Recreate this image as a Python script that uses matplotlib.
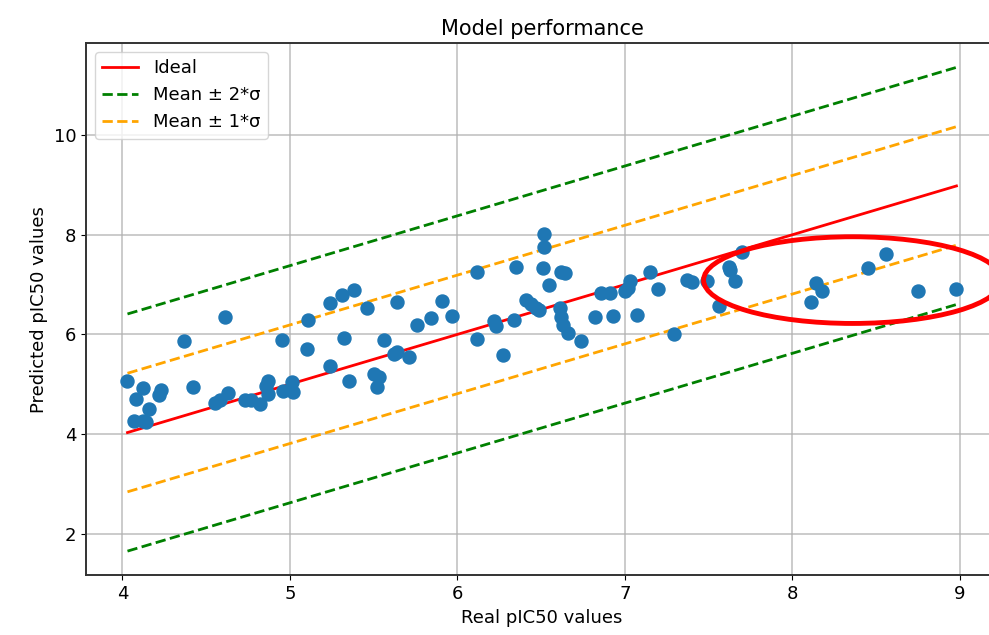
import numpy as np
from matplotlib import pyplot as plt
from matplotlib.patches import Ellipse

# real vs predicted pIC50 values
real = [4.03, 4.07, 4.08, 4.12, 4.12, 4.14, 4.16, 4.22, 4.23, 4.37,
        4.42, 4.555, 4.585, 4.61, 4.63, 4.73, 4.77, 4.82, 4.86, 4.87,
        4.87, 4.95, 4.96, 5.01, 5.02, 5.10, 5.11, 5.24, 5.24, 5.31,
        5.325, 5.35, 5.385, 5.46, 5.50, 5.53, 5.52, 5.56, 5.62, 5.64,
        5.64, 5.71, 5.76, 5.84, 5.91, 5.97, 6.12, 6.12, 6.22, 6.23,
        6.27, 6.34, 6.35, 6.41, 6.44, 6.47, 6.49, 6.51, 6.52, 6.52,
        6.545, 6.61, 6.62, 6.64, 6.62, 6.63, 6.66, 6.74, 6.82, 6.86,
        6.91, 6.93, 7.00, 7.02, 7.03, 7.07, 7.15, 7.195, 7.295, 7.37,
        7.40, 7.49, 7.56, 7.62, 7.63, 7.66, 7.70, 8.11, 8.14, 8.18,
        8.45, 8.56, 8.75, 8.98]
predicted = [5.07, 4.27, 4.71, 4.93, 4.26, 4.24, 4.51, 4.78, 4.88, 5.86,
             4.94, 4.63, 4.68, 6.34, 4.82, 4.68, 4.68, 4.61, 4.97, 5.06,
             4.81, 5.88, 4.87, 5.04, 4.84, 5.71, 6.28, 5.37, 6.63, 6.80,
             5.93, 5.06, 6.89, 6.54, 5.21, 5.14, 4.94, 5.89, 5.60, 5.65,
             6.65, 5.55, 6.18, 6.32, 6.67, 6.37, 7.26, 5.90, 6.27, 6.16,
             5.58, 6.28, 7.36, 6.69, 6.62, 6.52, 6.48, 7.33, 8.02, 7.76,
             6.99, 6.54, 7.26, 7.23, 6.35, 6.18, 6.02, 5.86, 6.35, 6.83,
             6.83, 6.36, 6.87, 6.93, 7.08, 6.38, 7.26, 6.92, 6.00, 7.09,
             7.06, 7.08, 6.57, 7.36, 7.29, 7.08, 7.66, 6.65, 7.04, 6.87,
             7.33, 7.62, 6.87, 6.91]

mean_err = 0.0
sigma = 1.19

plt.rcParams['font.size'] = 13

fig = plt.figure(figsize=(9.89, 6.35), dpi=100)
ax = fig.add_axes([0.087, 0.094, 0.922, 0.838])

ax.scatter(real, predicted, s=88, color='tab:blue', zorder=3)

x_line = np.array([min(real), max(real)])
ax.plot(x_line, x_line, color='red', lw=2, label='Ideal')
ax.plot(x_line, x_line + mean_err + 2 * sigma, '--', color='green', lw=2,
        label='Mean \u00b1 2*\u03c3')
ax.plot(x_line, x_line + mean_err - 2 * sigma, '--', color='green', lw=2)
ax.plot(x_line, x_line + mean_err + 1 * sigma, '--', color='orange', lw=2,
        label='Mean \u00b1 1*\u03c3')
ax.plot(x_line, x_line + mean_err - 1 * sigma, '--', color='orange', lw=2)

# hand drawn highlight around the high pIC50 compounds
# (add_artist so it does not change the autoscaled limits)
ax.add_artist(Ellipse((8.36, 7.09), 1.78, 1.74, fill=False, edgecolor='red',
                      lw=3.5, clip_on=False, zorder=4))

ax.grid(True, color='#b0b0b0', lw=1.3, alpha=0.7)
for sp in ax.spines.values():
    sp.set_linewidth(1.4)
    sp.set_color('#333333')

ax.set_xlabel('Real pIC50 values')
ax.set_ylabel('Predicted pIC50 values')
ax.set_title('Model performance', fontsize=15)
ax.legend(loc='upper left')

fig.savefig('out.png', dpi=100)
